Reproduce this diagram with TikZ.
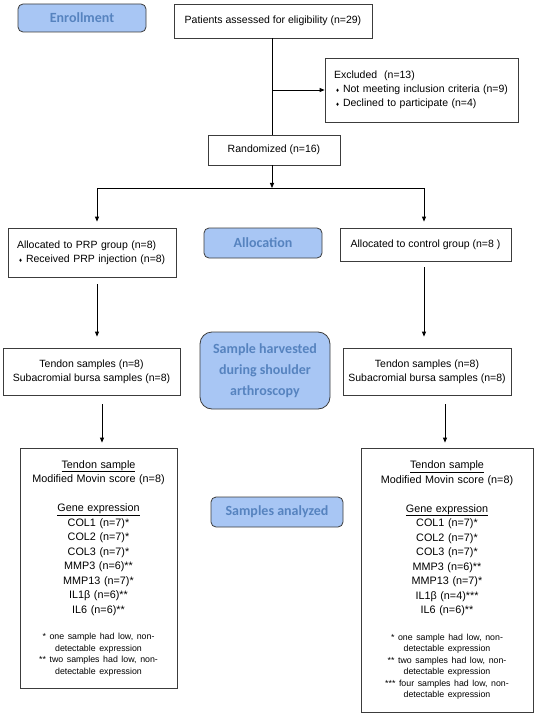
\documentclass[tikz,border=0pt]{standalone}
\usepackage{fontspec}
\setmainfont{Liberation Sans}
\newfontfamily\hdfont{Carlito}
\usetikzlibrary{arrows.meta}
\definecolor{hdfill}{HTML}{A8C6F4}
\definecolor{hdtext}{HTML}{5683BF}
\definecolor{edge}{HTML}{3C3C3C}
\newcommand{\bul}{\hspace*{2pt}{\fontsize{6}{6}\selectfont ♦}\hspace{4pt}}
\newcommand{\foot}{\fontsize{8.8}{11.5}\selectfont}
\begin{document}
\begin{tikzpicture}[x=1pt,y=-1pt,
  box/.style={draw=edge,line width=0.8pt,inner sep=0pt,font=\fontsize{10.5}{14}\selectfont},
  abox/.style={draw=edge,line width=0.8pt,inner sep=0pt,align=center,font=\fontsize{10.8}{14.5}\selectfont},
  hd/.style={draw=edge,line width=0.8pt,fill=hdfill,rounded corners=5pt,inner sep=0pt,text=hdtext,align=center,font=\hdfont\bfseries\fontsize{14}{21}\selectfont},
  arr/.style={-{Triangle[length=5pt,width=4pt]},line width=0.8pt},
  ln/.style={line width=0.8pt}]
\useasboundingbox (0,0) rectangle (550,714);
\fill[white] (0,0) rectangle (550,714);

% headers
\node[hd,minimum width=128pt,minimum height=28pt] (enr) at (82,18) {Enrollment};
\node[hd,minimum width=118pt,minimum height=30pt] (alloc) at (263,243) {Allocation};
\node[hd,rounded corners=12pt,minimum width=130pt,minimum height=77pt] (harv) at (265,370.5) {Sample harvested\\during shoulder\\arthroscopy};
\node[hd,minimum width=132pt,minimum height=30pt] (anl) at (277,512) {Samples analyzed};

% boxes
\node[box,minimum width=198pt,minimum height=34pt] (pat) at (273,21) {Patients assessed for eligibility (n=29)};
\node[box,inner xsep=9pt,text width=175pt,align=left,minimum height=64pt] (exc) at (421.5,90)
  {Excluded\ \ (n=13)\\ \bul Not meeting inclusion criteria (n=9)\\ \bul Declined to participate (n=4)};
\node[box,minimum width=132pt,minimum height=30pt] (rand) at (274,150) {Randomized (n=16)};
\node[box,inner xsep=9pt,text width=150pt,align=left,minimum height=49pt] (prp) at (92,252.5)
  {Allocated to PRP group (n=8)\\ \bul Received PRP injection (n=8)};
\node[box,minimum width=171pt,minimum height=33pt] (ctl) at (425.5,244.5) {Allocated to control group (n=8 )};
\node[box,align=center,minimum width=177pt,minimum height=47pt] (tl) at (91.5,371.5) {Tendon samples (n=8)\\Subacromial bursa samples (n=8)};
\node[box,align=center,minimum width=168pt,minimum height=47pt] (tr) at (427,371.5) {Tendon samples (n=8)\\Subacromial bursa samples (n=8)};

\node[abox,text width=157pt,minimum height=240pt] (al) at (98.5,568) {\parskip=0pt
  \underline{Tendon sample}\\ Modified Movin score (n=8)\par\vspace{14.5pt}
  \underline{Gene expression}\\ COL1 (n=7)*\\ COL2 (n=7)*\\ COL3 (n=7)*\\ MMP3 (n=6)**\\ MMP13 (n=7)*\\ IL1β (n=6)**\\ IL6 (n=6)**\par\vspace{15pt}
  {\foot * one sample had low, non-\\ detectable expression\\{}** two samples had low, non-\\ detectable expression\par}};
\node[abox,text width=172pt,minimum height=264pt] (ar) at (447,580) {\parskip=0pt
  \underline{Tendon sample}\\ Modified Movin score (n=8)\par\vspace{14.5pt}
  \underline{Gene expression}\\ COL1 (n=7)*\\ COL2 (n=7)*\\ COL3 (n=7)*\\ MMP3 (n=6)**\\ MMP13 (n=7)*\\ IL1β (n=4)***\\ IL6 (n=6)**\par\vspace{15pt}
  {\foot * one sample had low, non-\\ detectable expression\\{}** two samples had low, non-\\ detectable expression\\{}*** four samples had low, non-\\ detectable expression\par}};

% coordinates
\coordinate (jn) at (272,188);
\coordinate (jl) at (97,188);
\coordinate (jr) at (424,188);
\coordinate (lx) at (102,400);
\coordinate (rx) at (445,400);

% connectors
\draw[ln] (pat.south -| jn) -- (rand.north -| jn);
\draw[arr] (jn |- exc.west) -- (exc.west);
\draw[arr] (rand.south -| jn) -- (jn);
\draw[ln] (jl) -- (jr);
\draw[arr,shorten >=6pt] (jl) -- (jl |- prp.north);
\draw[arr,shorten >=6pt] (jr) -- (jr |- ctl.north);
\draw[arr,shorten <=7pt,shorten >=11pt] (jl |- prp.south) -- (jl |- tl.north);
\draw[arr,shorten <=6pt,shorten >=11pt] (jr |- ctl.south) -- (jr |- tr.north);
\draw[arr,shorten <=9pt,shorten >=5pt] (lx |- tl.south) -- (lx |- al.north);
\draw[arr,shorten <=9pt,shorten >=5pt] (rx |- tr.south) -- (rx |- ar.north);
\end{tikzpicture}
\end{document}
